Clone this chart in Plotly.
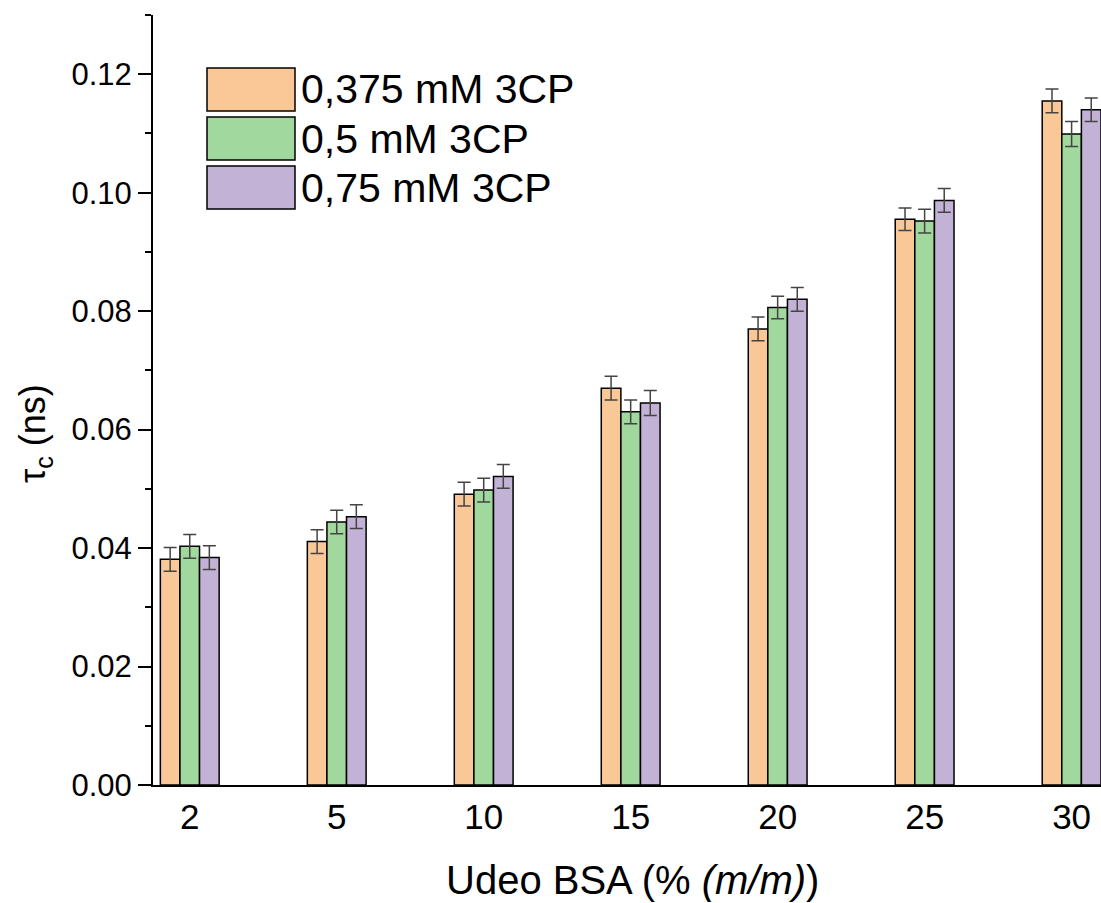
import plotly.graph_objects as go

categories = ["2", "5", "10", "15", "20", "25", "30"]
series_names = ["0,375 mM 3CP", "0,5 mM 3CP", "0,75 mM 3CP"]
s1 = [0.0381, 0.0411, 0.0491, 0.0670, 0.0770, 0.0955, 0.1155]
s2 = [0.0403, 0.0444, 0.0498, 0.0630, 0.0806, 0.0952, 0.1099]
s3 = [0.0384, 0.0453, 0.0521, 0.0645, 0.0820, 0.0987, 0.1140]
e1 = [0.0020, 0.0020, 0.0020, 0.0020, 0.0020, 0.0019, 0.0020]
e2 = [0.0020, 0.0020, 0.0020, 0.0020, 0.0019, 0.0020, 0.0021]
e3 = [0.0020, 0.0020, 0.0020, 0.0021, 0.0020, 0.0020, 0.0020]
colors = ["#FAC896", "#A0D89E", "#C2B2D6"]

W, H = 1101, 903
L, R, T, B = 153, 0, 15, 118
pw, ph = W - L - R, H - T - B

fig = go.Figure()
for name, vals, errs, col in zip(series_names, [s1, s2, s3], [e1, e2, e3], colors):
    fig.add_trace(go.Bar(
        x=list(range(len(categories))), y=vals, name=name,
        marker=dict(color=col, line=dict(color="black", width=1.5)),
        error_y=dict(type="data", array=errs, color="#444444", thickness=1.5, width=6.5),
        showlegend=False,
    ))

def px2x(px):
    return (px - L) / pw

def px2y(py):
    return (H - B - py) / ph

shapes = []
annotations = []
rows = [(68, 111), (117, 160), (166, 209)]
for (y0, y1), name, col in zip(rows, series_names, colors):
    shapes.append(dict(type="rect", xref="paper", yref="paper",
                       x0=px2x(207), x1=px2x(295), y0=px2y(y1), y1=px2y(y0),
                       fillcolor=col, line=dict(color="black", width=1.5)))
    annotations.append(dict(xref="paper", yref="paper", x=px2x(299), y=px2y((y0 + y1) / 2),
                            text=name, showarrow=False, xanchor="left", yanchor="middle",
                            font=dict(size=41, color="black", family="Liberation Sans, Arial")))

annotations.append(dict(xref="paper", yref="paper", x=0, y=px2y(434), xshift=-118,
                        text="τ<sub>c</sub> (ns)", textangle=-90, showarrow=False,
                        xanchor="center", yanchor="middle",
                        font=dict(size=36, color="black", family="Liberation Sans, Arial")))
annotations.append(dict(xref="paper", yref="paper", x=px2x(632), y=0, yshift=-95,
                        text="Udeo BSA (% <i>(m/m)</i>)", showarrow=False,
                        xanchor="center", yanchor="middle",
                        font=dict(size=40, color="black", family="Liberation Sans, Arial")))

fig.update_layout(
    width=W, height=H,
    margin=dict(l=L, r=R, t=T, b=B),
    paper_bgcolor="white", plot_bgcolor="white",
    barmode="group", bargap=0.6, bargroupgap=0,
    font=dict(family="Liberation Sans, Arial", color="black"),
    shapes=shapes, annotations=annotations,
    xaxis=dict(range=[-0.25, 6.2], tickmode="array", tickvals=list(range(len(categories))),
               ticktext=categories, showline=True, linecolor="black", linewidth=2,
               ticks="", showgrid=False, zeroline=False,
               tickfont=dict(size=35, color="black")),
    yaxis=dict(range=[0, 0.13], dtick=0.02, tick0=0, tickformat=".2f",
               showline=True, linecolor="black", linewidth=2,
               ticks="outside", ticklen=13, tickwidth=2, tickcolor="black",
               minor=dict(dtick=0.01, ticks="outside", ticklen=6, tickwidth=2, tickcolor="black"),
               showgrid=False, zeroline=False,
               tickfont=dict(size=31, color="black")),
)

fig.write_html("out.html", config={"displayModeBar": False},
               post_script="document.body.style.margin='0';document.body.style.overflow='hidden';")
